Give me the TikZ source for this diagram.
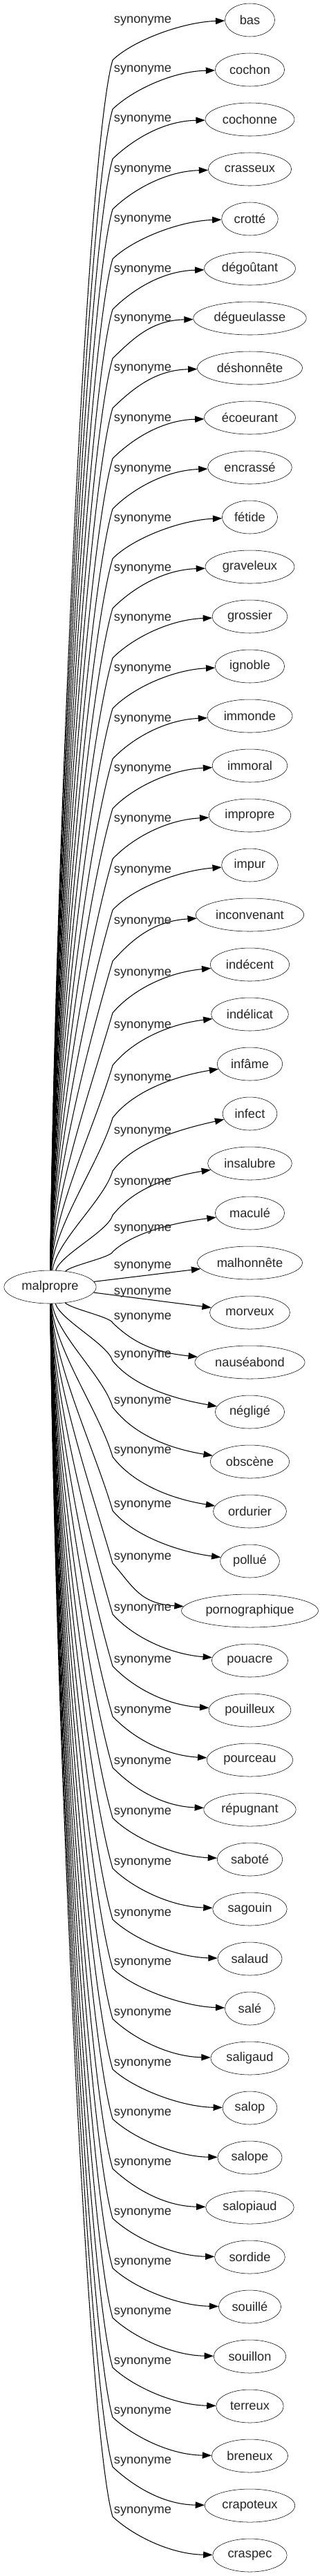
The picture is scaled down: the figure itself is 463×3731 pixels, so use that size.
\documentclass[tikz,border=0pt]{standalone}
\usepackage{fontspec}
\setmainfont{Liberation Sans}
\usetikzlibrary{arrows.meta,calc,shapes.geometric}

\begin{document}
\begin{tikzpicture}[
   x=0.75pt,y=-0.75pt,
   font=\fontsize{13.7}{16}\selectfont,
   mot/.style={draw,ellipse,inner xsep=4.5pt,inner ysep=1pt,
               minimum width=54pt,minimum height=36pt,text=black!85},
   lbl/.style={inner sep=0pt,text=black!85},
   syn/.style={-{Triangle[length=10pt,width=7pt]},line width=0.8pt}
 ]
  \useasboundingbox (0,0) rectangle (463,3731);
  \node[mot] (m) at (72.5,1864) {malpropre};
  \foreach \w [count=\i from 0] in {bas,cochon,cochonne,crasseux,crotté,dégoûtant,
      dégueulasse,déshonnête,écoeurant,encrassé,fétide,graveleux,grossier,ignoble,
      immonde,immoral,impropre,impur,inconvenant,indécent,indélicat,infâme,infect,
      insalubre,maculé,malhonnête,morveux,nauséabond,négligé,obscène,ordurier,pollué,
      pornographique,pouacre,pouilleux,pourceau,répugnant,saboté,sagouin,salaud,salé,
      saligaud,salop,salope,salopiaud,sordide,souillé,souillon,terreux,breneux,
      crapoteux,craspec}
    \node[mot] (w\i) at (361.5,{29+72*\i}) {\w};
  % edges going up
  \foreach \i/\yl/\yb in {0/30/87,1/101/158,2/173/230,3/246/303,4/318/375,5/391/448,
      6/462/519,7/534/591,8/607/664,9/680/737,10/752/809,11/824/881,12/896/953,
      13/969/1026,14/1042/1099,15/1114/1171,16/1187/1244,17/1261/1318,18/1335/1392,
      19/1410/1467,20/1486/1543,21/1562/1619,22/1639/1696,23/1713/1760,24/1780/1813}{
    \pgfmathsetmacro\yT{29+72*\i}
    \pgfmathsetmacro\dst{1841-\yb}
    \pgfmathsetmacro\cx{78+40*exp(max(-\dst/60,-9))}
    \pgfmathsetmacro\cy{1841-0.3*\dst}
    \pgfmathsetmacro\lenb{min(140,0.3*\dst)}
    \pgfmathsetmacro\kk{0.7*max(0,\yb-\yT-54)+20*exp(max(-\dst/60,-9))}
    \draw[syn] (m) .. controls (\cx,\cy) and ({163-0.28*\lenb},{\yb+0.96*\lenb}) .. (163,\yb)
      .. controls (193,{\yb+0.5*(\yT-\yb)}) and ($(w\i.west)+(-60,\kk)$) .. (w\i);
    \node[lbl] (s\i) at (206.5,\yl) {synonyme};
  }
  % the two near ones
  \draw[syn] (m) -- (w25);
  \node[lbl] (s25) at (206.5,1834) {synonyme};
  \draw[syn] (m) -- (w26);
  \node[lbl] (s26) at (206.5,1872) {synonyme};
  % edges going down
  \foreach \i/\yl/\yb in {27/1908/1916,28/1963/1971,29/2030/2038,30/2102/2110,
      31/2180/2188,32/2256/2264,33/2330/2338,34/2405/2413,35/2478/2486,36/2552/2560,
      37/2625/2633,38/2698/2706,39/2772/2780,40/2843/2851,41/2916/2924,42/2989/2997,
      43/3061/3069,44/3133/3141,45/3205/3213,46/3277/3285,47/3349/3357,48/3421/3429,
      49/3493/3501,50/3565/3573,51/3637/3645}{
    \pgfmathsetmacro\yT{29+72*\i}
    \pgfmathsetmacro\dst{\yb-1887}
    \pgfmathsetmacro\cx{78+40*exp(max(-\dst/60,-9))}
    \pgfmathsetmacro\cy{1887+0.3*\dst}
    \pgfmathsetmacro\lenb{min(140,0.3*\dst)}
    \pgfmathsetmacro\kk{0.7*max(0,\yT-\yb-54)+20*exp(max(-\dst/60,-9))}
    \draw[syn] (m) .. controls (\cx,\cy) and ({163-0.28*\lenb},{\yb-0.96*\lenb}) .. (163,\yb)
      .. controls (193,{\yb+0.5*(\yT-\yb)}) and ($(w\i.west)+(-60,-\kk)$) .. (w\i);
    \node[lbl] (s\i) at (206.5,\yl) {synonyme};
  }
\end{tikzpicture}
\end{document}
